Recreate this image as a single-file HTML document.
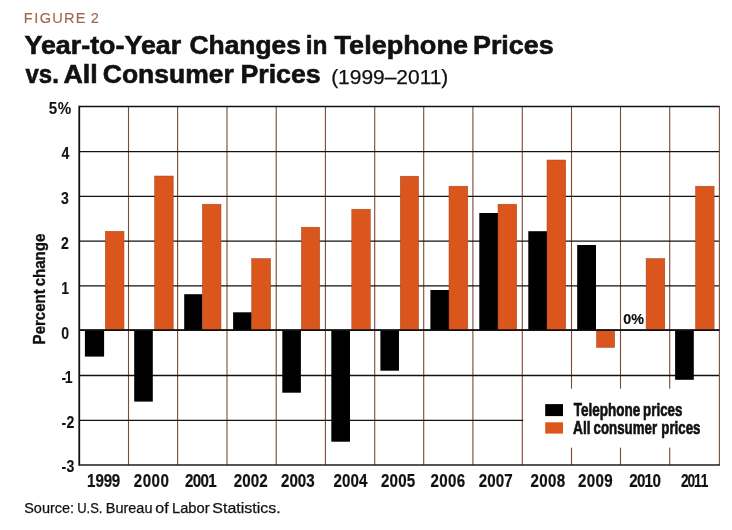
<!DOCTYPE html>
<html lang="en"><head><meta charset="utf-8"><title>Figure 2: Year-to-Year Changes in Telephone Prices vs. All Consumer Prices</title>
<style>html,body{margin:0;padding:0;background:#fff}svg{display:block}text{font-family:"Liberation Sans",sans-serif}</style>
</head><body>
<svg width="732" height="530" viewBox="0 0 732 530">
<rect width="732" height="530" fill="#fff"/>
<g id="titles">
<text transform="translate(0,23.3) scale(1.0,1)" x="23.8 34.37 39.81 52.35 64.07 75.64 84.4 90.69" font-size="14.6" font-weight="normal" fill="#a3664c" stroke="#a3664c" stroke-width="0.15">FIGURE 2</text>
<text y="53.9" font-size="25.4" font-weight="bold" fill="#111" stroke="#111" stroke-width="0.6"><tspan x="24.46" textLength="156.79" lengthAdjust="spacingAndGlyphs">Year-to-Year</tspan> <tspan x="189.49" textLength="111.43" lengthAdjust="spacingAndGlyphs">Changes</tspan> <tspan x="305.7" textLength="21.75" lengthAdjust="spacingAndGlyphs">in</tspan> <tspan x="334.53" textLength="133.55" lengthAdjust="spacingAndGlyphs">Telephone</tspan> <tspan x="472.99" textLength="80.67" lengthAdjust="spacingAndGlyphs">Prices</tspan></text>
<text y="83.4" font-size="25.4" font-weight="bold" fill="#111" stroke="#111" stroke-width="0.6"><tspan x="25.52" textLength="33.28" lengthAdjust="spacingAndGlyphs">vs.</tspan> <tspan x="63.48" textLength="34.3" lengthAdjust="spacingAndGlyphs">All</tspan> <tspan x="102.84" textLength="130.92" lengthAdjust="spacingAndGlyphs">Consumer</tspan> <tspan x="240.46" textLength="80.22" lengthAdjust="spacingAndGlyphs">Prices</tspan></text>
<text y="83.8" font-size="19.7" font-weight="normal" fill="#111" stroke="#111" stroke-width="0.25"><tspan x="331.15" textLength="117.21" lengthAdjust="spacingAndGlyphs">(1999–2011)</tspan></text>
</g>
<g id="grid">
<line x1="128.50" y1="106.55" x2="128.50" y2="464.95" stroke="#7c4938" stroke-width="1.1"/>
<line x1="177.60" y1="106.55" x2="177.60" y2="464.95" stroke="#7c4938" stroke-width="1.1"/>
<line x1="227.00" y1="106.55" x2="227.00" y2="464.95" stroke="#7c4938" stroke-width="1.1"/>
<line x1="276.20" y1="106.55" x2="276.20" y2="464.95" stroke="#7c4938" stroke-width="1.1"/>
<line x1="325.40" y1="106.55" x2="325.40" y2="464.95" stroke="#7c4938" stroke-width="1.1"/>
<line x1="374.70" y1="106.55" x2="374.70" y2="464.95" stroke="#7c4938" stroke-width="1.1"/>
<line x1="423.70" y1="106.55" x2="423.70" y2="464.95" stroke="#7c4938" stroke-width="1.1"/>
<line x1="472.90" y1="106.55" x2="472.90" y2="464.95" stroke="#7c4938" stroke-width="1.1"/>
<line x1="522.30" y1="106.55" x2="522.30" y2="464.95" stroke="#7c4938" stroke-width="1.1"/>
<line x1="571.50" y1="106.55" x2="571.50" y2="464.95" stroke="#7c4938" stroke-width="1.1"/>
<line x1="620.50" y1="106.55" x2="620.50" y2="464.95" stroke="#7c4938" stroke-width="1.1"/>
<line x1="669.70" y1="106.55" x2="669.70" y2="464.95" stroke="#7c4938" stroke-width="1.1"/>
<line x1="79.25" y1="420.4" x2="719.4" y2="420.4" stroke="#111" stroke-width="1.3"/>
<line x1="79.25" y1="375.5" x2="719.4" y2="375.5" stroke="#111" stroke-width="1.3"/>
<line x1="79.25" y1="330.1" x2="719.4" y2="330.1" stroke="#111" stroke-width="1.3"/>
<line x1="79.25" y1="285.9" x2="719.4" y2="285.9" stroke="#111" stroke-width="1.3"/>
<line x1="79.25" y1="241.1" x2="719.4" y2="241.1" stroke="#111" stroke-width="1.3"/>
<line x1="79.25" y1="196.4" x2="719.4" y2="196.4" stroke="#111" stroke-width="1.3"/>
<line x1="79.25" y1="151.55" x2="719.4" y2="151.55" stroke="#111" stroke-width="1.3"/>
<line x1="79.25" y1="106.55" x2="719.90" y2="106.55" stroke="#111" stroke-width="1.6"/>
</g>
<rect x="523.2" y="388.6" width="196.70" height="59" fill="#fff"/>
<line x1="719.40" y1="106.55" x2="719.40" y2="464.95" stroke="#7c4938" stroke-width="1.1"/>
<line x1="79.25" y1="105.75" x2="79.25" y2="465.65" stroke="#111" stroke-width="1.8"/>
<line x1="79.25" y1="464.95" x2="719.90" y2="464.95" stroke="#1c1c1c" stroke-width="1.4"/>
<g id="bars">
<rect x="84.9" y="330.1" width="19.20" height="26.50" fill="#000"/>
<rect x="134.2" y="330.1" width="18.60" height="71.50" fill="#000"/>
<rect x="184.2" y="294.2" width="18.20" height="35.90" fill="#000"/>
<rect x="233.1" y="312.3" width="18.60" height="17.80" fill="#000"/>
<rect x="282.3" y="330.1" width="18.60" height="62.60" fill="#000"/>
<rect x="331.3" y="330.1" width="18.70" height="111.60" fill="#000"/>
<rect x="380.4" y="330.1" width="18.60" height="40.60" fill="#000"/>
<rect x="430.4" y="290" width="18.60" height="40.10" fill="#000"/>
<rect x="479.3" y="213" width="18.70" height="117.10" fill="#000"/>
<rect x="528.3" y="231.2" width="18.70" height="98.90" fill="#000"/>
<rect x="577.2" y="245" width="18.80" height="85.10" fill="#000"/>
<rect x="675.1" y="330.1" width="18.70" height="49.70" fill="#000"/>
<rect x="105.3" y="231.3" width="18.70" height="98.80" fill="#db561d" stroke="#a8401a" stroke-width="0.5"/>
<rect x="154.6" y="176" width="18.60" height="154.10" fill="#db561d" stroke="#a8401a" stroke-width="0.5"/>
<rect x="202.4" y="204.2" width="18.60" height="125.90" fill="#db561d" stroke="#a8401a" stroke-width="0.5"/>
<rect x="251.7" y="258.6" width="18.90" height="71.50" fill="#db561d" stroke="#a8401a" stroke-width="0.5"/>
<rect x="301.4" y="227.2" width="18.30" height="102.90" fill="#db561d" stroke="#a8401a" stroke-width="0.5"/>
<rect x="351.8" y="209.2" width="18.50" height="120.90" fill="#db561d" stroke="#a8401a" stroke-width="0.5"/>
<rect x="400.3" y="176.2" width="18.30" height="153.90" fill="#db561d" stroke="#a8401a" stroke-width="0.5"/>
<rect x="449" y="186.2" width="18.80" height="143.90" fill="#db561d" stroke="#a8401a" stroke-width="0.5"/>
<rect x="498" y="204.2" width="18.70" height="125.90" fill="#db561d" stroke="#a8401a" stroke-width="0.5"/>
<rect x="547" y="160" width="18.70" height="170.10" fill="#db561d" stroke="#a8401a" stroke-width="0.5"/>
<rect x="596.5" y="330.1" width="18.20" height="17.30" fill="#db561d" stroke="#a8401a" stroke-width="0.5"/>
<rect x="646.1" y="258.6" width="18.70" height="71.50" fill="#db561d" stroke="#a8401a" stroke-width="0.5"/>
<rect x="695.6" y="186.2" width="18.50" height="143.90" fill="#db561d" stroke="#a8401a" stroke-width="0.5"/>
</g>
<line x1="79.25" y1="330.1" x2="719.4" y2="330.1" stroke="#111" stroke-width="1.6"/>
<g id="labels">
<text transform="translate(0,487.3) scale(0.86,1)" x="101.29 111.19 120.55 129.91" font-size="17.6" font-weight="bold" fill="#111" stroke="#111" stroke-width="0.2">1999</text>
<text transform="translate(0,487.3) scale(0.86,1)" x="155.6 165.93 176.27 186.62" font-size="17.6" font-weight="bold" fill="#111" stroke="#111" stroke-width="0.2">2000</text>
<text transform="translate(0,487.3) scale(0.86,1)" x="215.19 224.23 233.29 242.16" font-size="17.6" font-weight="bold" fill="#111" stroke="#111" stroke-width="0.2">2001</text>
<text transform="translate(0,487.3) scale(0.86,1)" x="271.88 281.71 291.56 301.46" font-size="17.6" font-weight="bold" fill="#111" stroke="#111" stroke-width="0.2">2002</text>
<text transform="translate(0,487.3) scale(0.86,1)" x="326.82 336.54 346.28 356.14" font-size="17.6" font-weight="bold" fill="#111" stroke="#111" stroke-width="0.2">2003</text>
<text transform="translate(0,487.3) scale(0.86,1)" x="387.87 397.66 407.46 417.55" font-size="17.6" font-weight="bold" fill="#111" stroke="#111" stroke-width="0.2">2004</text>
<text transform="translate(0,487.3) scale(0.86,1)" x="443.1 453.03 462.98 472.85" font-size="17.6" font-weight="bold" fill="#111" stroke="#111" stroke-width="0.2">2005</text>
<text transform="translate(0,487.3) scale(0.86,1)" x="500.66 510.81 520.98 531.16" font-size="17.6" font-weight="bold" fill="#111" stroke="#111" stroke-width="0.2">2006</text>
<text transform="translate(0,487.3) scale(0.86,1)" x="556.76 566.55 576.35 586.37" font-size="17.6" font-weight="bold" fill="#111" stroke="#111" stroke-width="0.2">2007</text>
<text transform="translate(0,487.3) scale(0.86,1)" x="616.94 627.06 637.2 647.34" font-size="17.6" font-weight="bold" fill="#111" stroke="#111" stroke-width="0.2">2008</text>
<text transform="translate(0,487.3) scale(0.86,1)" x="672.17 682.3 692.44 702.58" font-size="17.6" font-weight="bold" fill="#111" stroke="#111" stroke-width="0.2">2009</text>
<text transform="translate(0,487.3) scale(0.86,1)" x="731.76 740.61 749.28 758.71" font-size="17.6" font-weight="bold" fill="#111" stroke="#111" stroke-width="0.2">2010</text>
<text transform="translate(0,487.3) scale(0.78,1)" x="873.19 881.56 889.81 898.48" font-size="17.6" font-weight="bold" fill="#111" stroke="#111" stroke-width="0.2">2011</text>
<text transform="translate(0,114.1) scale(0.88,1)" x="55.41 65.63" font-size="17.2" font-weight="bold" fill="#111" stroke="#111" stroke-width="0.1">5%</text>
<text transform="translate(0,158.6) scale(0.82,1)" x="74.86" font-size="17.2" font-weight="bold" fill="#111" stroke="#111" stroke-width="0.1">4</text>
<text transform="translate(0,203.9) scale(0.82,1)" x="74.43" font-size="17.2" font-weight="bold" fill="#111" stroke="#111" stroke-width="0.1">3</text>
<text transform="translate(0,248.6) scale(0.82,1)" x="74.39" font-size="17.2" font-weight="bold" fill="#111" stroke="#111" stroke-width="0.1">2</text>
<text transform="translate(0,293.6) scale(0.82,1)" x="74.58" font-size="17.2" font-weight="bold" fill="#111" stroke="#111" stroke-width="0.1">1</text>
<text transform="translate(0,338.5) scale(0.82,1)" x="74.72" font-size="17.2" font-weight="bold" fill="#111" stroke="#111" stroke-width="0.1">0</text>
<text transform="translate(0,383.3) scale(0.82,1)" x="74.98 79.04" font-size="17.2" font-weight="bold" fill="#111" stroke="#111" stroke-width="0.1">-1</text>
<text transform="translate(0,427.9) scale(0.82,1)" x="74.98 81.04" font-size="17.2" font-weight="bold" fill="#111" stroke="#111" stroke-width="0.1">-2</text>
<text transform="translate(0,472.2) scale(0.82,1)" x="74.98 81.09" font-size="17.2" font-weight="bold" fill="#111" stroke="#111" stroke-width="0.1">-3</text>
<text transform="translate(0,323.7) scale(0.95,1)" x="656.12 664.57" font-size="15.1" font-weight="bold" fill="#111" stroke="#111" stroke-width="0.2">0%</text>
<text transform="translate(45.1,343.5) rotate(-90)" y="0" font-size="16.0" font-weight="bold" fill="#111" stroke="#111" stroke-width="0.35"><tspan x="-0.9" textLength="55.14" lengthAdjust="spacingAndGlyphs">Percent</tspan> <tspan x="57.13" textLength="52.8" lengthAdjust="spacingAndGlyphs">change</tspan></text>
</g>
<g id="legend">
<rect x="545.2" y="404.1" width="17.8" height="12" fill="#000"/>
<rect x="545.2" y="422.3" width="17.8" height="11.3" fill="#db561d"/>
<text y="416.1" font-size="18.5" font-weight="bold" fill="#111" stroke="#111" stroke-width="0.65"><tspan x="573.69" textLength="66.59" lengthAdjust="spacingAndGlyphs">Telephone</tspan> <tspan x="643.11" textLength="39.35" lengthAdjust="spacingAndGlyphs">prices</tspan></text>
<text y="434.0" font-size="18.5" font-weight="bold" fill="#111" stroke="#111" stroke-width="0.65"><tspan x="573.12" textLength="17.48" lengthAdjust="spacingAndGlyphs">All</tspan> <tspan x="593.57" textLength="63.51" lengthAdjust="spacingAndGlyphs">consumer</tspan> <tspan x="661.28" textLength="39.16" lengthAdjust="spacingAndGlyphs">prices</tspan></text>
</g>
<text y="513.0" font-size="14.7" font-weight="normal" fill="#111" stroke="#111" stroke-width="0.25"><tspan x="24.16" textLength="49.95" lengthAdjust="spacingAndGlyphs">Source:</tspan> <tspan x="77.18" textLength="25.31" lengthAdjust="spacingAndGlyphs">U.S.</tspan> <tspan x="105.8" textLength="46.66" lengthAdjust="spacingAndGlyphs">Bureau</tspan> <tspan x="155.36" textLength="13.35" lengthAdjust="spacingAndGlyphs">of</tspan> <tspan x="172.0" textLength="37.63" lengthAdjust="spacingAndGlyphs">Labor</tspan> <tspan x="212.36" textLength="68.23" lengthAdjust="spacingAndGlyphs">Statistics.</tspan></text>
</svg>
</body></html>
